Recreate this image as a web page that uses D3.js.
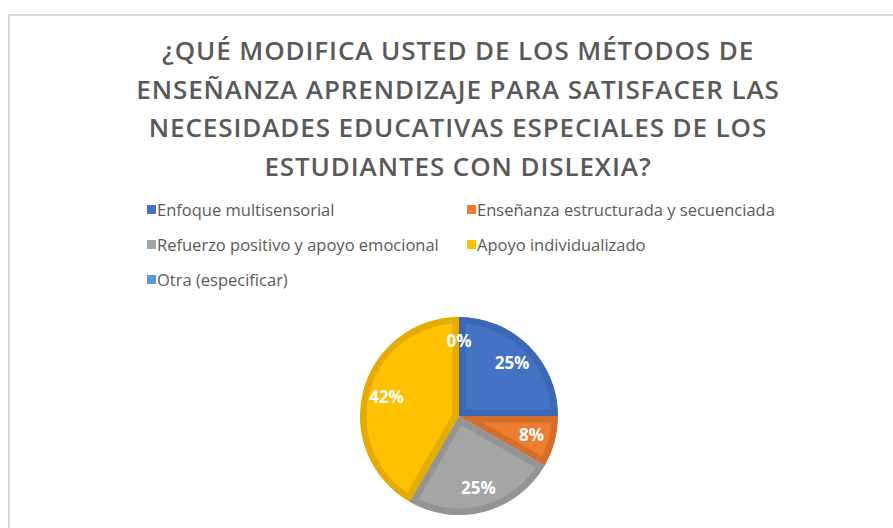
<html>
<head>
<script src="https://d3js.org/d3.v7.min.js"></script>
<style>
    body { margin: 0; background-color: #fff; }
    svg { display: block; }
</style>
</head>
<body>
<svg width="893" height="528"></svg>
<script type="text/javascript">
    var titleLines = [
        "¿QUÉ MODIFICA USTED DE LOS MÉTODOS DE",
        "ENSEÑANZA APRENDIZAJE PARA SATISFACER LAS",
        "NECESIDADES EDUCATIVAS ESPECIALES DE LOS",
        "ESTUDIANTES CON DISLEXIA?"
    ];
    var categories = [
        "Enfoque multisensorial",
        "Enseñanza estructurada y secuenciada",
        "Refuerzo positivo y apoyo emocional",
        "Apoyo individualizado",
        "Otra (especificar)"
    ];
    var counts = [3, 1, 3, 5, 0];
    var fills = ["#4472C4", "#ED7D31", "#A5A5A5", "#FFC000", "#5B9BD5"];
    var borders = ["#3C67B4", "#D46E2B", "#949494", "#E5AC00", "#5290C8"];

    var svg = d3.select("svg");

    // chart area frame
    svg.append("path")
        .attr("d", "M9,528V15H893")
        .attr("fill", "none")
        .attr("stroke", "#d9d9d9")
        .attr("stroke-width", 2);

    // title
    svg.append("g").selectAll("text")
        .data(titleLines)
        .enter().append("text")
        .attr("x", 458)
        .attr("y", function(d, i) { return 60 + i * 38.5; })
        .attr("text-anchor", "middle")
        .attr("fill", "#595959")
        .style("font", "600 26px 'Open Sans'")
        .style("letter-spacing", "0.9px")
        .text(function(d) { return d; });

    // legend
    var legend = svg.append("g").selectAll("g")
        .data(categories)
        .enter().append("g")
        .attr("transform", function(d, i) {
            return "translate(" + (147 + (i % 2) * 320) + "," + (210 + Math.floor(i / 2) * 35) + ")";
        });
    legend.append("rect")
        .attr("x", 0).attr("y", -5)
        .attr("width", 9).attr("height", 9)
        .attr("fill", function(d, i) { return fills[i]; });
    legend.append("text")
        .attr("x", 10)
        .attr("y", 6)
        .attr("fill", "#595959")
        .style("font", "16.5px 'Open Sans'")
        .text(function(d) { return d; });

    // pie
    var radius = 99;
    var total = d3.sum(counts);
    var pie = d3.pie().sort(null).value(function(d) { return d; });
    var arc = d3.arc().innerRadius(0).outerRadius(radius);
    var labelArc = d3.arc().innerRadius(75).outerRadius(75);
    var arcs = pie(counts);

    var g = svg.append("g").attr("transform", "translate(459,416)");
    var defs = svg.append("defs");
    defs.selectAll("clipPath")
        .data(arcs)
        .enter().append("clipPath")
        .attr("id", function(d, i) { return "clip" + i; })
        .append("path")
        .attr("d", arc);

    g.selectAll("path.slice")
        .data(arcs)
        .enter().append("path")
        .attr("class", "slice")
        .attr("d", arc)
        .attr("fill", function(d, i) { return fills[i]; })
        .attr("stroke", function(d, i) { return borders[i]; })
        .attr("stroke-width", 13)
        .attr("stroke-linejoin", "miter")
        .attr("clip-path", function(d, i) { return "url(#clip" + i + ")"; });

    g.selectAll("text")
        .data(arcs)
        .enter().append("text")
        .attr("transform", function(d) { return "translate(" + labelArc.centroid(d) + ")"; })
        .attr("dy", "0.35em")
        .attr("text-anchor", "middle")
        .attr("fill", "#fff")
        .style("font", "bold 17px 'Open Sans'")
        .text(function(d) { return Math.round(d.value / total * 100) + "%"; });
</script>
</body>
</html>
